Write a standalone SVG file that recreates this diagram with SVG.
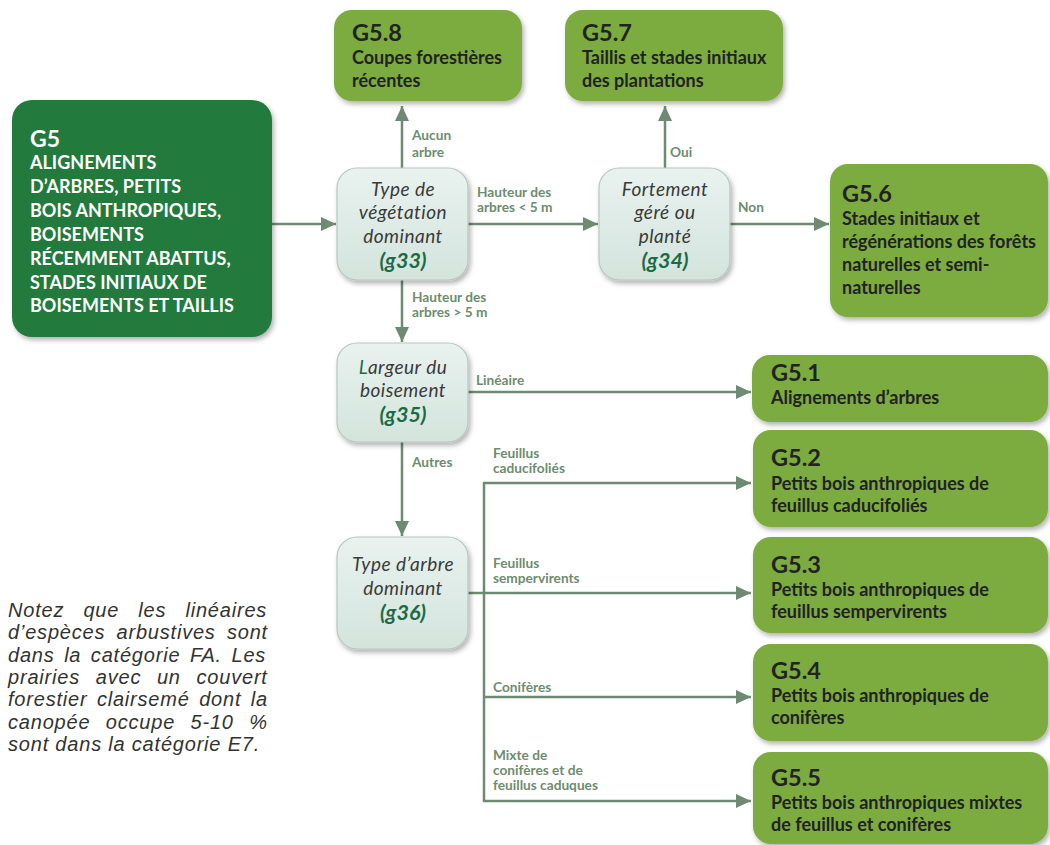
<svg xmlns="http://www.w3.org/2000/svg" width="1050" height="845" viewBox="0 0 1050 845">
<defs>
<style>
.dark{fill:#237a3e}
.leaf{fill:#7bab3f}
.dec{fill:url(#decg);stroke:#b7c6bf;stroke-width:1.2}
.t-white{font-family:Lato,"Open Sans",sans-serif;font-weight:700;fill:#ffffff}
.code{font-family:Lato,"Open Sans",sans-serif;font-weight:700;font-size:23.5px;fill:#222222}
.body{font-family:Lato,"Open Sans",sans-serif;font-weight:700;font-size:18px;fill:#222222}
.q{font-family:Lato,"Open Sans",sans-serif;font-style:italic;font-size:19px;letter-spacing:0.5px;fill:#3a3a3a;text-anchor:middle}
.qc{font-family:Lato,"Open Sans",sans-serif;font-style:italic;font-weight:700;font-size:21.5px;fill:#1c6b46;text-anchor:middle}
.lbl{font-family:Lato,"Open Sans",sans-serif;font-weight:700;font-size:13.7px;fill:#6e8c70}
.note{font-family:"Liberation Sans",Arial,sans-serif;font-style:italic;font-size:20px;letter-spacing:0.8px;fill:#333333}
.con{fill:none;stroke:#6f8a72;stroke-width:2.5}
</style>
<linearGradient id="decg" x1="0" y1="0" x2="0" y2="1">
<stop offset="0" stop-color="#e9f2ef"/>
<stop offset="1" stop-color="#d3e4dd"/>
</linearGradient>
<filter id="sh" x="-10%" y="-10%" width="125%" height="130%">
<feDropShadow dx="2" dy="3" stdDeviation="2.5" flood-color="#000" flood-opacity="0.3"/>
</filter>
<marker id="ah" markerUnits="userSpaceOnUse" markerWidth="16" markerHeight="14" refX="15" refY="7" orient="auto">
<path d="M0,0 L15,7 L0,14 z" fill="#6f8a72"/>
</marker>
</defs>
<rect width="1050" height="845" fill="#ffffff"/>

<g id="connectors">
<line class="con" x1="272" y1="224" x2="336" y2="224" marker-end="url(#ah)"/>
<line class="con" x1="402" y1="168" x2="402" y2="106" marker-end="url(#ah)"/>
<line class="con" x1="468" y1="224" x2="598" y2="224" marker-end="url(#ah)"/>
<line class="con" x1="665" y1="168" x2="665" y2="106" marker-end="url(#ah)"/>
<line class="con" x1="730" y1="224" x2="829" y2="224" marker-end="url(#ah)"/>
<line class="con" x1="402" y1="280" x2="402" y2="342" marker-end="url(#ah)"/>
<line class="con" x1="468" y1="392" x2="751" y2="392" marker-end="url(#ah)"/>
<line class="con" x1="402" y1="442" x2="402" y2="536" marker-end="url(#ah)"/>
<line class="con" x1="468" y1="593" x2="484" y2="593"/>
<line class="con" x1="484" y1="482" x2="484" y2="802"/>
<line class="con" x1="483" y1="483" x2="751" y2="483" marker-end="url(#ah)"/>
<line class="con" x1="484" y1="593" x2="751" y2="593" marker-end="url(#ah)"/>
<line class="con" x1="484" y1="697" x2="751" y2="697" marker-end="url(#ah)"/>
<line class="con" x1="483" y1="801" x2="751" y2="801" marker-end="url(#ah)"/>
<text class="lbl" x="412" y="140">Aucun</text>
<text class="lbl" x="412" y="157">arbre</text>
<text class="lbl" x="477" y="197">Hauteur des</text>
<text class="lbl" x="477" y="212">arbres &lt; 5 m</text>
<text class="lbl" x="670" y="157">Oui</text>
<text class="lbl" x="738" y="212">Non</text>
<text class="lbl" x="412" y="302">Hauteur des</text>
<text class="lbl" x="412" y="317">arbres &gt; 5 m</text>
<text class="lbl" x="476" y="385">Linéaire</text>
<text class="lbl" x="412" y="467">Autres</text>
<text class="lbl" x="493" y="458">Feuillus</text>
<text class="lbl" x="493" y="473">caducifoliés</text>
<text class="lbl" x="493" y="568">Feuillus</text>
<text class="lbl" x="493" y="583">sempervirents</text>
<text class="lbl" x="493" y="692">Conifères</text>
<text class="lbl" x="493" y="760">Mixte de</text>
<text class="lbl" x="493" y="775">conifères et de</text>
<text class="lbl" x="493" y="790">feuillus caduques</text>
</g>

<g id="G5">
<rect class="dark" x="12" y="100" width="260" height="237" rx="20" filter="url(#sh)"/>
<text class="t-white" x="30" y="147" font-size="23">G5</text>
<g class="t-white" font-size="18">
<text x="30" y="169">ALIGNEMENTS</text>
<text x="30" y="193">D’ARBRES, PETITS</text>
<text x="30" y="217">BOIS ANTHROPIQUES,</text>
<text x="30" y="241">BOISEMENTS</text>
<text x="30" y="265">RÉCEMMENT ABATTUS,</text>
<text x="30" y="289">STADES INITIAUX DE</text>
<text x="30" y="312">BOISEMENTS ET TAILLIS</text>
</g>
</g>

<g id="g33">
<rect class="dec" x="337" y="168" width="131" height="112" rx="20" filter="url(#sh)"/>
<text class="q" x="403" y="196">Type de</text>
<text class="q" x="403" y="219">végétation</text>
<text class="q" x="403" y="243">dominant</text>
<text class="qc" x="403" y="268">(g33)</text>
</g>

<g id="g34">
<rect class="dec" x="599" y="168" width="131" height="112" rx="20" filter="url(#sh)"/>
<text class="q" x="665" y="196">Fortement</text>
<text class="q" x="665" y="219">géré ou</text>
<text class="q" x="665" y="243">planté</text>
<text class="qc" x="665" y="268">(g34)</text>
</g>

<g id="g35">
<rect class="dec" x="337" y="343" width="131" height="99" rx="20" filter="url(#sh)"/>
<text class="q" x="403" y="374"><tspan fill="#1c6b46">L</tspan>argeur du</text>
<text class="q" x="403" y="397">boisement</text>
<text class="qc" x="403" y="422">(g35)</text>
</g>

<g id="g36">
<rect class="dec" x="337" y="537" width="131" height="112" rx="20" filter="url(#sh)"/>
<text class="q" x="403" y="571">Type d’arbre</text>
<text class="q" x="403" y="595">dominant</text>
<text class="qc" x="403" y="620">(g36)</text>
</g>

<g id="G5.8">
<rect class="leaf" x="334" y="10" width="188" height="91" rx="18" filter="url(#sh)"/>
<text class="code" x="352" y="41">G5.8</text>
<text class="body" x="352" y="64">Coupes forestières</text>
<text class="body" x="352" y="87">récentes</text>
</g>

<g id="G5.7">
<rect class="leaf" x="565" y="10" width="218" height="91" rx="18" filter="url(#sh)"/>
<text class="code" x="582" y="41">G5.7</text>
<text class="body" x="582" y="64">Taillis et stades initiaux</text>
<text class="body" x="582" y="87">des plantations</text>
</g>

<g id="G5.6">
<rect class="leaf" x="830" y="164" width="218" height="153" rx="18" filter="url(#sh)"/>
<text class="code" x="842" y="202">G5.6</text>
<text class="body" x="842" y="225">Stades initiaux et</text>
<text class="body" x="842" y="248">régénérations des forêts</text>
<text class="body" x="842" y="271">naturelles et semi-</text>
<text class="body" x="842" y="294">naturelles</text>
</g>

<g id="G5.1">
<rect class="leaf" x="752" y="355" width="296" height="67" rx="18" filter="url(#sh)"/>
<text class="code" x="771" y="381">G5.1</text>
<text class="body" x="771" y="404">Alignements d’arbres</text>
</g>

<g id="G5.2">
<rect class="leaf" x="753" y="430" width="295" height="97" rx="18" filter="url(#sh)"/>
<text class="code" x="771" y="466">G5.2</text>
<text class="body" x="771" y="490">Petits bois anthropiques de</text>
<text class="body" x="771" y="512">feuillus caducifoliés</text>
</g>

<g id="G5.3">
<rect class="leaf" x="753" y="537" width="295" height="96" rx="18" filter="url(#sh)"/>
<text class="code" x="771" y="573">G5.3</text>
<text class="body" x="771" y="596">Petits bois anthropiques de</text>
<text class="body" x="771" y="618">feuillus sempervirents</text>
</g>

<g id="G5.4">
<rect class="leaf" x="753" y="644" width="295" height="97" rx="18" filter="url(#sh)"/>
<text class="code" x="771" y="679">G5.4</text>
<text class="body" x="771" y="702">Petits bois anthropiques de</text>
<text class="body" x="771" y="724">conifères</text>
</g>

<g id="G5.5">
<rect class="leaf" x="753" y="752" width="295" height="92" rx="18" filter="url(#sh)"/>
<text class="code" x="771" y="786">G5.5</text>
<text class="body" x="771" y="809">Petits bois anthropiques mixtes</text>
<text class="body" x="771" y="831">de feuillus et conifères</text>
</g>

<g id="note" class="note">
<text x="8" y="617" word-spacing="12.8">Notez que les linéaires</text>
<text x="8" y="639" word-spacing="4.9">d’espèces arbustives sont</text>
<text x="8" y="662" word-spacing="3.2">dans la catégorie FA. Les</text>
<text x="8" y="684" word-spacing="9.4">prairies avec un couvert</text>
<text x="8" y="706" word-spacing="3.1">forestier clairsemé dont la</text>
<text x="8" y="729" word-spacing="9.1">canopée occupe 5-10 %</text>
<text x="8" y="751">sont dans la catégorie E7.</text>
</g>
</svg>
